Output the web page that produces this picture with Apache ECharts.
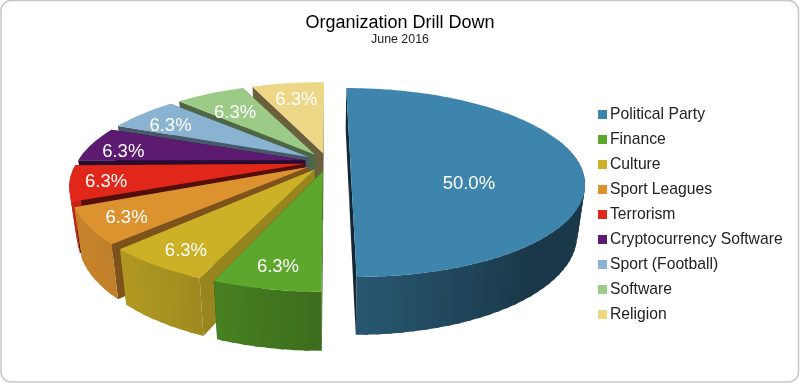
<!DOCTYPE html>
<html>
<head>
<meta charset="utf-8">
<script src="https://cdn.jsdelivr.net/npm/echarts@6/dist/echarts.min.js"></script>
<style>
html, body { margin: 0; padding: 0; background: #fff; }
#myChart { width: 800px; height: 384px; }
</style>
</head>
<body>
<div id="myChart"></div>
<script>
var categories = ['Political Party', 'Finance', 'Culture', 'Sport Leagues', 'Terrorism', 'Cryptocurrency Software', 'Sport (Football)', 'Software', 'Religion'];
var values = [8, 1, 1, 1, 1, 1, 1, 1, 1];

var colors = ['#3e85ae', '#5ca72c', '#ccb127', '#dd9230', '#e0271a', '#5c1b70', '#8ab2d1', '#9ccb88', '#edd685'];
var wallShade = [0.3, 0.45, 0.75, 0.57, 0.38, 0.45, 0.5, 0.5, 0.45]; /*slice cut faces*/
var drawOrder = [0, 8, 7, 6, 5, 4, 3, 2, 1]; /*back to front*/
var labelRadius = [0.52, 0.8, 0.83, 0.84, 0.85, 0.85, 0.82, 0.74, 0.72];
var labelDrop = [22, 7, 5, 3, 3, 6, 5, 5, 0];

var FONT = '"Liberation Sans", Arial, sans-serif';
var total = values.reduce(function (a, b) { return a + b; }, 0);

/* perspective of the tilted pie */
var view = { cx: 327.5, cy: 162, rx: 228, ry: 90, persp: 0.217, height: 48, lean: 0.03, explode: 0.1, gap: 0.9 };

function project(x, z, h) {
    var s = 1 / (1 - view.persp * z);
    var t = 1 - view.lean * h;
    return [
        view.cx + view.rx * x * s * t,
        view.cy + view.ry * z * s * t + view.height * h * s
    ];
}

function shade(hex, f) {
    var n = parseInt(hex.slice(1), 16);
    var r = Math.round((n >> 16 & 255) * f);
    var g = Math.round((n >> 8 & 255) * f);
    var b = Math.round((n & 255) * f);
    return 'rgb(' + r + ',' + g + ',' + b + ')';
}

/* side wall gets lighter towards the left of the pie */
function sideShade(deg) {
    if (deg >= 180) {
        return 0.65 + 0.25 * Math.sin(Math.min(1, (deg - 180) / 67) * Math.PI / 2);
    }
    return 0.42 + 0.23 * Math.max(0, (deg - 140) / 40);
}

function startOf(index) {
    var sum = 0;
    for (var i = 0; i < index; i++) {
        sum += values[i];
    }
    return sum / total * 360;
}

function renderSlice(index, api) {
    var value = api.value(0);
    var a0 = startOf(index);
    var a1 = a0 + value / total * 360;
    var mid = (a0 + a1) / 2 * Math.PI / 180;
    var ex = Math.sin(mid) * view.explode;
    var ez = -Math.cos(mid) * view.explode;
    var color = colors[index];
    var children = [];

    // slices sit a bit apart at the rim, not on the vertical cut
    if (index > 0 && index < categories.length - 1) {
        a1 -= view.gap;
    }

    function rim(deg, h) {
        var a = deg * Math.PI / 180;
        return project(ex + Math.sin(a), ez - Math.cos(a), h);
    }

    function face(points, fill) {
        children.push({
            type: 'polygon',
            silent: true,
            shape: { points: points },
            style: { fill: fill }
        });
    }

    // cut faces first, the top covers what should not show
    var wall = shade(color, wallShade[index]);
    face([project(ex, ez, 0), rim(a0, 0), rim(a0, 1), project(ex, ez, 1)], wall);
    face([project(ex, ez, 0), rim(a1, 0), rim(a1, 1), project(ex, ez, 1)], wall);

    // outer wall in small strips, front part of the rim only
    var step = 2.5;
    for (var d = a0; d < a1 - 0.01; d += step) {
        var e = Math.min(d + step, a1);
        var over = Math.min(e + 1, a1);
        var at = (d + e) / 2;
        if (at > 75 && at < 270) {
            face([rim(d, 0), rim(over, 0), rim(over, 1), rim(d, 1)], shade(color, sideShade(at)));
        }
    }

    // top
    var top = [project(ex, ez, 0)];
    for (var t = a0; t < a1; t += 1) {
        top.push(rim(t, 0));
    }
    top.push(rim(a1, 0));
    face(top, color);

    var r = labelRadius[index];
    var p = project(ex + Math.sin(mid) * r, ez - Math.cos(mid) * r, 0);
    children.push({
        type: 'text',
        silent: true,
        style: {
            x: p[0],
            y: p[1] + labelDrop[index],
            text: (value / total * 100).toFixed(1) + '%',
            fill: '#fff',
            font: '18.5px ' + FONT,
            align: 'center',
            verticalAlign: 'middle'
        }
    });

    return { type: 'group', children: children };
}

var series = categories.map(function (name, i) {
    return {
        name: name,
        type: 'custom',
        coordinateSystem: 'none',
        z: 2 + drawOrder[i],
        itemStyle: { color: colors[i] },
        data: [values[i]],
        renderItem: function (params, api) {
            return renderSlice(i, api);
        }
    };
});

var myChart = echarts.init(document.getElementById('myChart'));
myChart.setOption({
    animation: false,
    backgroundColor: '#fff',
    title: {
        text: 'Organization Drill Down',
        subtext: 'June 2016',
        left: 'center',
        top: 9,
        itemGap: 2,
        textStyle: { color: '#000', fontSize: 18, fontWeight: 'normal', fontFamily: FONT },
        subtextStyle: { color: '#222', fontSize: 12.4, fontFamily: FONT }
    },
    legend: {
        data: categories,
        orient: 'vertical',
        left: 598,
        top: 106,
        icon: 'rect',
        itemWidth: 9,
        itemHeight: 9,
        itemGap: 8,
        selectedMode: false,
        padding: 0,
        textStyle: { color: '#222', fontSize: 15.7, fontFamily: FONT, padding: [0, 0, 0, -2], lineHeight: 17 }
    },
    graphic: [{
        type: 'rect',
        silent: true,
        z: 100,
        shape: { x: 1, y: 0.5, width: 797.5, height: 381.5, r: 10 },
        style: { fill: 'none', stroke: '#c6c6c6', lineWidth: 1.5 }
    }],
    series: series
});
</script>
</body>
</html>
